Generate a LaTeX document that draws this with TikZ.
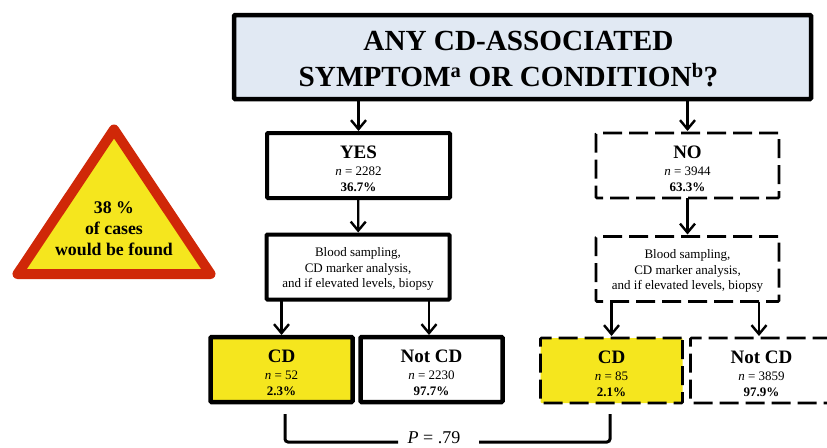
\documentclass[tikz,border=0pt]{standalone}
\usepackage{fontspec}
\setmainfont{Liberation Serif}
\usepackage{tikz}
\usetikzlibrary{arrows.meta,positioning}
\definecolor{cdyellow}{HTML}{F5E61E}
\definecolor{alarmred}{HTML}{D02808}
\definecolor{headblue}{HTML}{E1E9F3}
\newcommand{\bigline}[1]{\rule{0pt}{20pt}{\bfseries\fontsize{19}{20}\selectfont #1}}
\newcommand{\toptest}[1]{\rule{0pt}{13pt}#1}

\begin{document}
\begin{tikzpicture}[x=1pt,y=-1pt,
    solidbox/.style={draw, line width=4pt, rounded corners=1pt, align=center, text=black, inner sep=0pt, outer sep=0pt},
    dashbox/.style={draw, line width=2.7pt, dash pattern=on 19pt off 7pt, rounded corners=1pt, align=center, text=black, inner sep=0pt, outer sep=0pt},
    result/.style={minimum width=142pt, minimum height=65pt, font=\fontsize{13}{16.5}\selectfont},
    answer/.style={minimum width=183pt, minimum height=65pt, font=\fontsize{13}{16.5}\selectfont},
    testing/.style={minimum width=183pt, minimum height=65pt, font=\fontsize{13}{15.5}\selectfont},
    link/.style={draw, line width=2.2pt, shorten >=2pt, -{Straight Barb[length=9pt,width=15pt,line width=2.4pt]}},
    bracket/.style={line width=3pt, rounded corners=3pt}]
    \useasboundingbox (0,0) rectangle (827,447);
    \clip (0,0) rectangle (827,447);
    \node[solidbox, line width=4.5pt, minimum width=577pt, minimum height=84pt, fill=headblue, font=\bfseries\fontsize{29.2}{36.5}\selectfont] (any) at (522.5,57) {\rule{0pt}{23pt}ANY CD-ASSOCIATED\hspace*{8pt}\\SYMPTOM\textsuperscript{a} OR CONDITION\textsuperscript{b}?\hspace*{28pt}};
    \node[solidbox, answer] (yes) at (358.5,165.5) {\bigline{YES}\\\textit{n} = 2282\\\textbf{36.7\%}};
    \node[dashbox, answer] (no) at (687.5,165.5) {\bigline{NO}\\\textit{n} = 3944\\\textbf{63.3\%}};
    \node[solidbox, testing] (testyes) at (358,267) {\toptest{Blood sampling,}\\CD marker analysis,\\and if elevated levels, biopsy};
    \node[dashbox, testing] (testno) at (687.5,269) {\toptest{Blood sampling,}\\CD marker analysis,\\and if elevated levels, biopsy};
    \node[solidbox, result, line width=4.5pt, fill=cdyellow] (cdyes) at (281.5,369.5) {\bigline{CD}\\\textit{n} = 52\\\textbf{2.3\%}};
    \node[solidbox, result, line width=4.5pt] (notyes) at (431.5,369.5) {\bigline{Not CD}\\\textit{n} = 2230\\\textbf{97.7\%}};
    \node[dashbox, result, fill=cdyellow] (cdno) at (611.5,370.5) {\bigline{CD}\\\textit{n} = 85\\\textbf{2.1\%}};
    \node[dashbox, result] (notno) at (761.5,370.5) {\bigline{Not CD}\\\textit{n} = 3859\\\textbf{97.9\%}};
    \draw[link] (any.south -| yes.north) -- (yes.north);
    \draw[link] (any.south -| no.north) -- (no.north);
    \draw[link] (yes) -- (testyes);
    \draw[link] (no) -- (testno);
    \draw[link] (testyes.south -| cdyes.north) -- (cdyes.north);
    \draw[link] ([xshift=-2.5pt]notyes.north |- testyes.south) -- ([xshift=-2.5pt]notyes.north);
    \draw[link] (testno.south -| cdno.north) -- (cdno.north);
    \draw[link] ([xshift=-2.5pt]notno.north |- testno.south) -- ([xshift=-2.5pt]notno.north);
    \node[font=\fontsize{18}{18}\selectfont, anchor=base, inner sep=0pt] (pval) at (434,443.5) {\textit{P} = .79};
    \coordinate (pleft) at (285,414);
    \coordinate (pright) at (610,414);
    \coordinate (pleftend) at (398,442);
    \coordinate (prightend) at (479,442);
    \draw[bracket] (pleft) |- (pleftend);
    \draw[bracket] (pright) |- (prightend);
    \draw[alarmred, fill=cdyellow, line width=10pt, line join=round] (114,129.5) -- (17.5,274) -- (210.5,274) -- cycle;
    \node[font=\bfseries\fontsize{17.8}{21}\selectfont, align=center] (alarm) at (114,228.5) {38 \%\\of cases\\would be found};
\end{tikzpicture}
\end{document}
